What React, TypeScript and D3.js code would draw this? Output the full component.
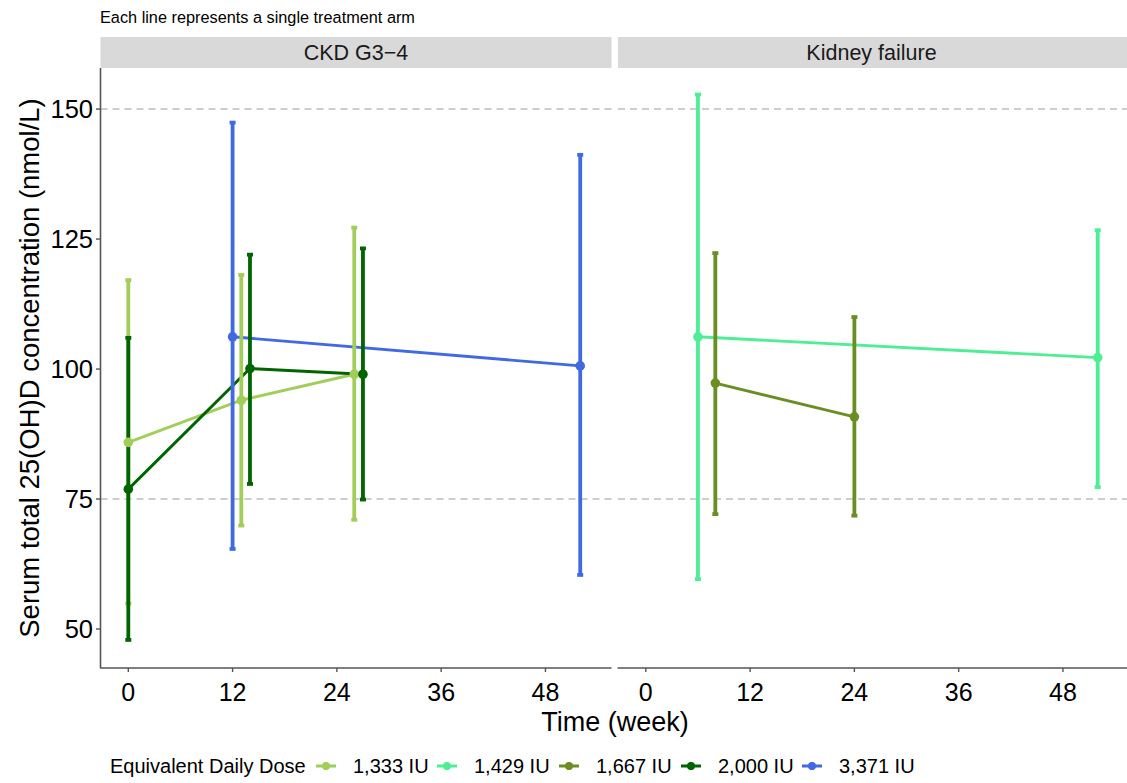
import React from "react";
import * as d3 from "d3";

// ---- data ----
const panelNames = ["CKD G3\u22124", "Kidney failure"];
const doseLabels = ["1,333 IU", "1,429 IU", "1,667 IU", "2,000 IU", "3,371 IU"];
const doseColors = ["#A2CD5A", "#4EEE94", "#6B8E23", "#006400", "#4169E1"];
const armPanel = [0, 1, 1, 0, 0];
const armWeeks = [[0, 13, 26], [6, 52], [8, 24], [0, 14, 27], [12, 52]];
const armMean = [[85.9, 94.0, 99.0], [106.2, 102.2], [97.3, 90.8], [76.9, 100.1, 99.0], [106.2, 100.6]];
const armLower = [[54.9, 69.9, 71.0], [59.6, 77.3], [72.1, 71.8], [47.9, 77.9, 74.9], [65.4, 60.4]];
const armUpper = [[117.1, 118.1, 127.2], [152.8, 126.7], [122.3, 110.0], [106.0, 122.0, 123.2], [147.4, 141.2]];
const yTicks = [50, 75, 100, 125, 150];
const xTicks = [0, 12, 24, 36, 48];
const refLines = [75, 150];
const subtitle = "Each line represents a single treatment arm";
const xTitle = "Time (week)";
const yTitle = "Serum total 25(OH)D concentration (nmol/L)";
const legendTitle = "Equivalent Daily Dose";

// ---- layout ----
const W = 1127, H = 783;
const FONT = "'Liberation Sans', Arial, Helvetica, sans-serif";
const panelX = [[100.5, 611.5], [618, 1129]];
const plotTop = 68, plotBottom = 668;
const stripTop = 37;
const xDomain: [number, number] = [-3.2, 55.6];
const yDomain: [number, number] = [42.5, 157.9];

export default function App() {
  const y = d3.scaleLinear().domain(yDomain).range([plotBottom, plotTop]);
  const xs = panelX.map(r => d3.scaleLinear().domain(xDomain).range(r));
  const line = (p: number) => d3.line<[number, number]>().x(d => xs[p](d[0])).y(d => y(d[1]));

  const arms = doseLabels.map((_, i) => i);
  const capHalf = 3;

  const legendLabelX = [353, 474, 596, 718, 839];

  return (
    <svg width={W} height={H} style={{ position: "absolute", left: 0, top: 0, background: "#fff" }} fontFamily={FONT}>
      <rect x={0} y={0} width={W} height={H} fill="#fff" />
      <text x={100} y={23} fontSize={16.3} fill="#000">{subtitle}</text>

      {panelNames.map((name, p) => {
        const [x0, x1] = panelX[p];
        return (
          <g key={name}>
            <rect x={x0} y={stripTop} width={x1 - x0} height={plotTop - stripTop} fill="#D9D9D9" />
            <text x={(x0 + Math.min(x1, W)) / 2 + (p === 1 ? -1 : 0)} y={(stripTop + plotTop) / 2} dy="0.36em" textAnchor="middle" fontSize={21.5} fill="#1a1a1a">{name}</text>
            {refLines.map(v => (
              <line key={v} x1={x0} x2={x1} y1={y(v)} y2={y(v)} stroke="#BEBEBE" strokeWidth={1.4} strokeDasharray="7,5" />
            ))}
            <line x1={x0 - 0.5} x2={x1} y1={plotBottom} y2={plotBottom} stroke="#555" strokeWidth={1.6} />
            {xTicks.map(t => (
              <g key={t}>
                <line x1={xs[p](t)} x2={xs[p](t)} y1={plotBottom} y2={plotBottom + 4} stroke="#555" strokeWidth={1.4} />
                <text x={xs[p](t)} y={701} textAnchor="middle" fontSize={25} fill="#000">{t}</text>
              </g>
            ))}
          </g>
        );
      })}

      {/* y axis */}
      <line x1={100.5} x2={100.5} y1={plotTop} y2={plotBottom} stroke="#555" strokeWidth={1.6} />
      {yTicks.map(t => (
        <g key={t}>
          <line x1={96} x2={100.5} y1={y(t)} y2={y(t)} stroke="#555" strokeWidth={1.4} />
          <text x={93} y={y(t)} dy="0.36em" textAnchor="end" fontSize={25.5} fill="#000">{t}</text>
        </g>
      ))}

      {/* lines */}
      {arms.map(i => {
        const pts: [number, number][] = armWeeks[i].map((w, k) => [w, armMean[i][k]]);
        return <path key={"l" + i} d={line(armPanel[i])(pts) || ""} fill="none" stroke={doseColors[i]} strokeWidth={2.9} />;
      })}

      {/* error bars */}
      {arms.map(i => (
        <g key={"e" + i} stroke={doseColors[i]}>
          {armWeeks[i].map((w, k) => {
            const cx = xs[armPanel[i]](w);
            return (
              <g key={k}>
                <line x1={cx} x2={cx} y1={y(armLower[i][k])} y2={y(armUpper[i][k])} strokeWidth={3.8} />
                <line x1={cx - capHalf} x2={cx + capHalf} y1={y(armLower[i][k])} y2={y(armLower[i][k])} strokeWidth={3.8} />
                <line x1={cx - capHalf} x2={cx + capHalf} y1={y(armUpper[i][k])} y2={y(armUpper[i][k])} strokeWidth={3.8} />
              </g>
            );
          })}
        </g>
      ))}

      {/* points */}
      {arms.map(i => (
        <g key={"p" + i} fill={doseColors[i]}>
          {armWeeks[i].map((w, k) => (
            <circle key={k} cx={xs[armPanel[i]](w)} cy={y(armMean[i][k])} r={4.8} />
          ))}
        </g>
      ))}

      {/* titles */}
      <text x={615} y={731} textAnchor="middle" fontSize={27} fill="#000">{xTitle}</text>
      <text transform={`translate(39,${(plotTop + plotBottom) / 2}) rotate(-90)`} textAnchor="middle" fontSize={27.5} fill="#000">{yTitle}</text>

      {/* legend */}
      <text x={110} y={773} fontSize={20} fill="#000">{legendTitle}</text>
      {doseLabels.map((lab, i) => {
        const tx = legendLabelX[i];
        const kc = tx - 27;
        return (
          <g key={lab}>
            <line x1={kc - 10} x2={kc + 10} y1={766} y2={766} stroke={doseColors[i]} strokeWidth={3} />
            <line x1={kc} x2={kc} y1={762} y2={770} stroke={doseColors[i]} strokeWidth={3} />
            <circle cx={kc} cy={766} r={4} fill={doseColors[i]} />
            <text x={tx} y={773} fontSize={20} fill="#000">{lab}</text>
          </g>
        );
      })}
    </svg>
  );
}
